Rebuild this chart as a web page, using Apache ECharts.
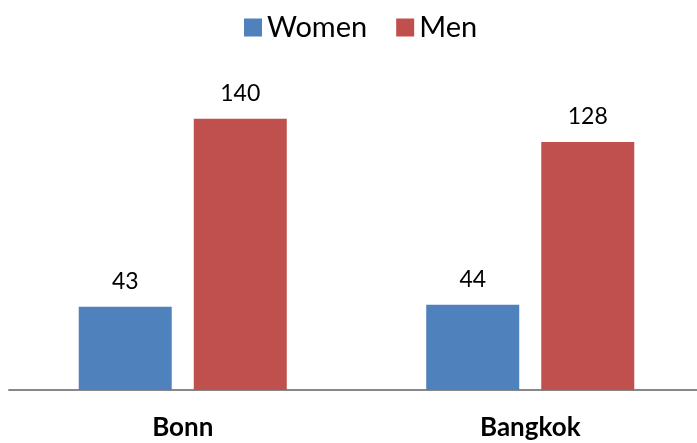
<!DOCTYPE html>
<html><head><meta charset="utf-8">
<script src="https://cdn.jsdelivr.net/npm/echarts@6/dist/echarts.min.js"></script>
<style>html,body{margin:0;padding:0;background:#fff;overflow:hidden;width:697px;height:443px}#c{width:710px;height:443px}</style>
</head><body><div id="c"></div>
<script>
const categories = ["Bonn", "Bangkok"];
const women = [43, 44];
const men = [140, 128];
const seriesNames = ["Women", "Men"];

const chart = echarts.init(document.getElementById('c'));
const font = 'Lato, "Open Sans", sans-serif';
chart.setOption({
  animation: false,
  textStyle: { fontFamily: font },
  legend: {
    data: seriesNames,
    top: 8,
    left: 239,
    itemWidth: 18,
    itemHeight: 18,
    itemGap: 29,
    icon: 'rect',
    textStyle: { fontSize: 29, color: '#000', fontFamily: font }
  },
  grid: { left: 9, width: 695, top: 80, bottom: 53, containLabel: false },
  xAxis: {
    type: 'category',
    data: categories,
    axisLine: { lineStyle: { color: '#888', width: 2 } },
    axisTick: { show: false },
    axisLabel: { fontSize: 26, fontWeight: 'bold', color: '#000', margin: 25, fontFamily: font }
  },
  yAxis: {
    type: 'value', min: 0, max: 160,
    show: false, splitLine: { show: false }
  },
  series: [
    {
      name: seriesNames[0], type: 'bar', data: women, barWidth: 93, barGap: '23.7%',
      itemStyle: { color: '#4f81bd' },
      label: { show: true, position: 'top', distance: 14, fontSize: 23, color: '#000', fontFamily: font }
    },
    {
      name: seriesNames[1], type: 'bar', data: men, barWidth: 93,
      itemStyle: { color: '#c0504d' },
      label: { show: true, position: 'top', distance: 14, fontSize: 23, color: '#000', fontFamily: font }
    }
  ]
});
</script></body></html>
